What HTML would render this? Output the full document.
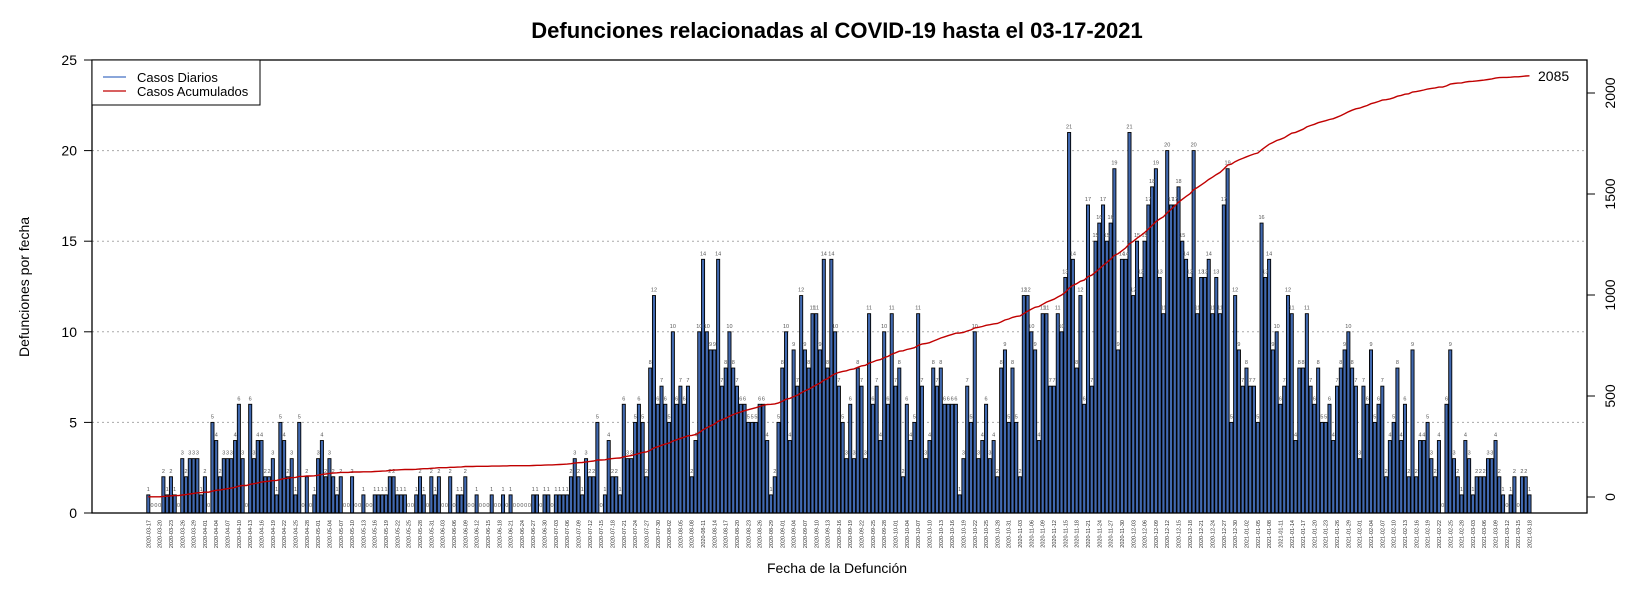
<!DOCTYPE html>
<html><head><meta charset="utf-8">
<style>
html,body{margin:0;padding:0;background:#fff;}
svg{display:block;font-family:"Liberation Sans",Arial,sans-serif;}
</style></head>
<body>
<svg id="chart" width="1650" height="594" viewBox="0 0 1650 594" xmlns="http://www.w3.org/2000/svg">
<text x="837" y="38" text-anchor="middle" font-size="22" font-weight="bold" fill="#000">Defunciones relacionadas al COVID-19 hasta el 03-17-2021</text>
<g id="grid"></g>
<g id="bars"></g>
<g id="vlabels"></g>
<g id="cum"></g>
<rect x="92" y="60" width="1495" height="453" fill="none" stroke="#000" stroke-width="1.3"/>
<g id="yaxis"></g>
<g id="y2axis"></g>
<g id="xaxis"></g>
<text transform="translate(29,287) rotate(-90)" text-anchor="middle" font-size="14" fill="#000">Defunciones por fecha</text>
<text x="837" y="573" text-anchor="middle" font-size="14" fill="#000">Fecha de la Defunción</text>
<g>
<rect x="92" y="60" width="168" height="45" fill="#fff" stroke="#000" stroke-width="1"/>
<line x1="103" y1="77" x2="126" y2="77" stroke="#4472c4" stroke-width="1.3"/>
<text x="137" y="82" font-size="13" fill="#000">Casos Diarios</text>
<line x1="103" y1="91" x2="126" y2="91" stroke="#c00000" stroke-width="1.3"/>
<text x="137" y="96" font-size="13" fill="#000">Casos Acumulados</text>
</g>
</svg>
<script>
const startDate = "2020-03-17";
const daily = [
1,0,0,0,2,1,2,1,0,3,2,3,3,3,1,2,0,5,4,2,3,3,3,4,6,3,0,6,3,4,4,2,2,3,1,5,4,2,3,1,5,0,2,0,1,3,4,2,3,2,1,2,0,0,2,0,0,1,0,
0,1,1,1,1,2,2,1,1,1,0,0,1,2,1,0,2,1,2,0,0,2,0,1,1,2,0,0,1,0,0,0,1,0,0,1,0,1,0,0,0,0,0,1,1,0,1,1,0,1,1,1,1,2,3,2,1,3,2,2,5,
0,1,4,2,2,1,6,3,3,5,6,5,2,8,12,6,7,6,5,10,6,7,6,7,2,4,10,14,10,9,9,14,7,8,10,8,7,6,6,5,5,5,6,6,4,1,2,5,8,10,4,9,7,12,9,8,11,11,9,
14,8,14,10,7,5,3,6,3,8,7,3,11,6,7,4,10,6,11,7,8,2,6,4,5,11,7,3,4,8,7,8,6,6,6,6,1,3,7,5,10,3,4,6,3,4,2,8,9,5,8,5,2,12,12,10,9,4,11,11,7,7,11,10,
13,21,14,8,12,6,17,7,15,16,17,15,16,19,9,14,14,21,12,15,13,15,17,18,19,13,11,20,17,17,18,15,14,13,20,11,13,13,14,11,13,11,17,19,5,12,9,
7,8,7,7,5,16,13,14,9,10,6,7,12,11,4,8,8,11,7,6,8,5,5,6,4,7,8,9,10,8,7,3,7,6,9,5,6,7,2,4,5,8,4,6,2,9,2,4,4,5,3,2,4,0,6,9,3,2,1,4,3,1,
2,2,2,3,3,4,2,1,0,1,2,0,2,2,1
];
const yTicks = [0,5,10,15,20,25];
const y2Ticks = [0,500,1000,1500,2000];

const NS = "http://www.w3.org/2000/svg";
function mk(tag, attrs, parent){const e=document.createElementNS(NS,tag);for(const k in attrs)e.setAttribute(k,attrs[k]);parent.appendChild(e);return e;}
const n = daily.length;
const x0 = 148.3, x1 = 1529.5;
const step = n>1 ? (x1-x0)/(n-1) : 0;
function xs(i){return x0 + i*step;}
function ys(v){return 513 - v*18.12;}
function y2s(v){return 497 - v*101/500;}
const bw = step*0.82;

const grid = document.getElementById('grid');
[5,10,15,20].forEach(v=>{
  const l = mk('line',{x1:92,x2:1587,y1:ys(v),y2:ys(v),stroke:'#aaa','stroke-width':1,'stroke-dasharray':'2,3'},grid);
  
  
});

const bars = document.getElementById('bars');
const vl = document.getElementById('vlabels');
daily.forEach((v,i)=>{
  if(v>0){
    const r = mk('rect',{x:xs(i)-bw/2,y:ys(v),width:bw,height:ys(0)-ys(v),fill:'#4169b0',stroke:'#000','stroke-width':0.9},bars);
    
    
  }
  const t = mk('text',{x:xs(i),y:(v>0?ys(v)-4:ys(0)-6),'text-anchor':'middle','font-size':5.5,fill:'#555'},vl);
  
  
  t.textContent = v;
});

const cumG = document.getElementById('cum');
let s=0; const pts=[];
daily.forEach((v,i)=>{s+=v;pts.push(xs(i).toFixed(1)+','+y2s(s).toFixed(1));});
const pl = mk('polyline',{points:pts.join(' '),fill:'none',stroke:'#c00000','stroke-width':1.4},cumG);


const tl = mk('text',{x:1538,y:y2s(s)+5,'font-size':14,fill:'#000'},cumG);


tl.textContent = s;

const ya = document.getElementById('yaxis');
yTicks.forEach(v=>{
  const l=mk('line',{x1:84,x2:92,y1:ys(v),y2:ys(v),stroke:'#000','stroke-width':1},ya);
  
  
  const t=mk('text',{x:77,y:ys(v)+5,'text-anchor':'end','font-size':14,fill:'#000'},ya);
  
  
  t.textContent=v;
});
const y2a = document.getElementById('y2axis');
y2Ticks.forEach(v=>{
  const l=mk('line',{x1:1587,x2:1595,y1:y2s(v),y2:y2s(v),stroke:'#000','stroke-width':1},y2a);
  
  
  const t=mk('text',{transform:'translate(1615,'+y2s(v)+') rotate(-90)','text-anchor':'middle','font-size':14,fill:'#000'},y2a);
  
  
  t.textContent=v;
});

const xa = document.getElementById('xaxis');
const d0 = new Date(startDate+"T00:00:00Z");
for(let i=0;i<n;i+=3){
  const d = new Date(d0.getTime()+i*86400000);
  const lab = d.toISOString().slice(0,10);
  const t=mk('text',{transform:'translate('+(xs(i)+2)+',520) rotate(-90)','text-anchor':'end','font-size':5.5,fill:'#333'},xa);
  
  
  t.textContent=lab;
}
</script>
</body></html>
